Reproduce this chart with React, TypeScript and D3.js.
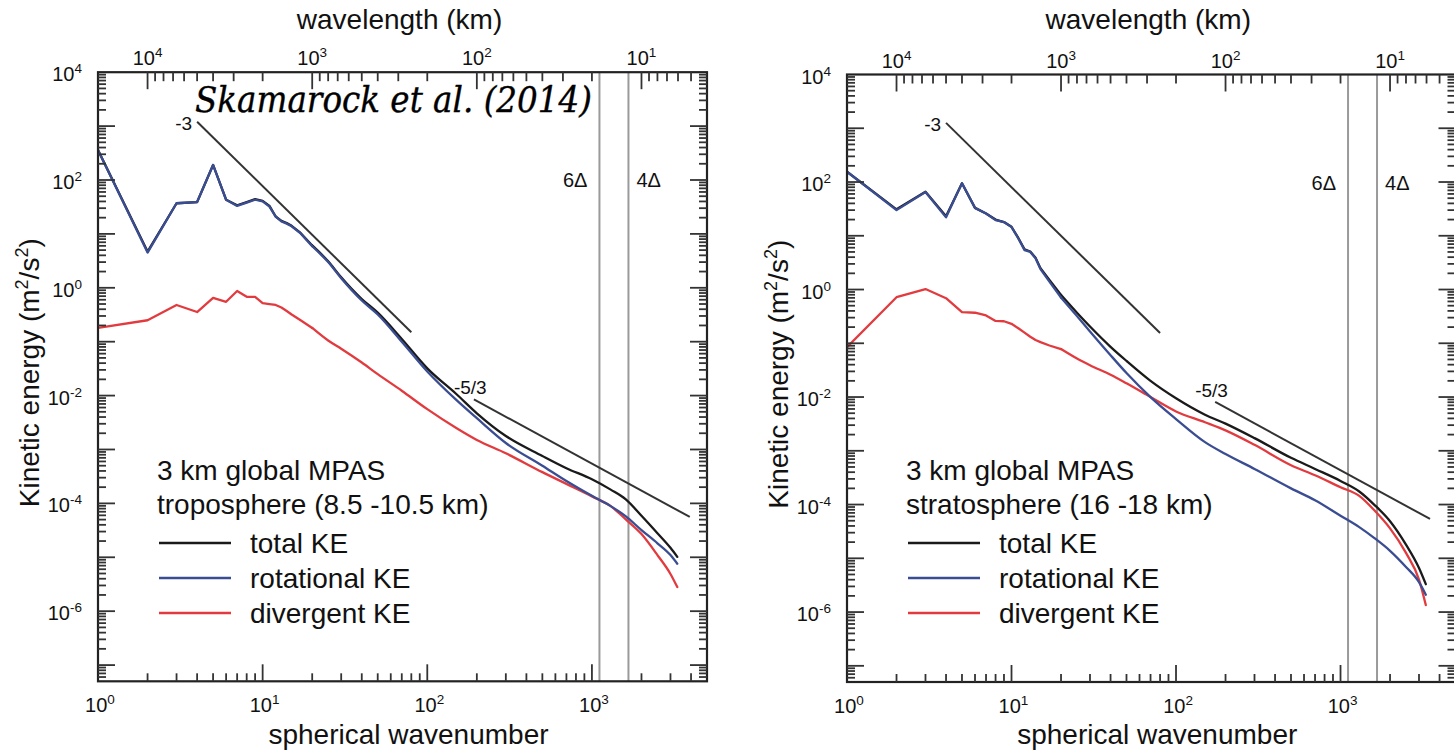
import React from 'react'
import * as d3 from 'd3'

const wavenumber = [1, 2, 3, 4, 5, 6, 7, 8, 9, 10, 11, 12, 13, 14, 15, 17, 20, 25, 30, 40, 50, 70, 100, 150, 200, 300, 500, 700, 1000, 1300, 1600, 2000, 2500, 3000, 3300]

// troposphere (8.5 - 10.5 km), m^2/s^2
const tropoTotal = [360, 4.7, 37, 39, 190, 43, 34, 39, 44, 41, 33, 21, 17.4, 15.9, 14.1, 10.4, 6.1, 3.1, 1.57, 0.62, 0.345, 0.112, 0.032, 0.0107, 4.7e-3, 1.78e-3, 7.6e-4, 4.5e-4, 2.8e-4, 1.8e-4, 1.2e-4, 5.9e-5, 2.8e-5, 1.5e-5, 1.02e-5]
const tropoRot = [360, 4.5, 37, 39, 190, 43, 33, 38, 43, 40, 32, 21, 17, 15.5, 13.8, 10.2, 5.9, 3.0, 1.5, 0.58, 0.32, 0.10, 0.028, 8.3e-3, 3.8e-3, 1.32e-3, 5.0e-4, 2.6e-4, 1.38e-4, 8.9e-5, 5.8e-5, 3.2e-5, 1.82e-5, 1.1e-5, 7.6e-6]
const tropoDiv = [0.18, 0.25, 0.48, 0.355, 0.65, 0.55, 0.87, 0.68, 0.68, 0.52, 0.50, 0.48, 0.43, 0.37, 0.32, 0.25, 0.18, 0.105, 0.074, 0.041, 0.025, 0.0123, 5.6e-3, 2.5e-3, 1.5e-3, 8.5e-4, 3.8e-4, 2.3e-4, 1.35e-4, 8.9e-5, 5.1e-5, 2.7e-5, 1.1e-5, 4.9e-6, 2.8e-6]

// stratosphere (16 - 18 km)
const stratoTotal = [155, 31, 66, 23, 95, 33, 26, 20, 18, 14.7, 9.1, 5.6, 5.1, 3.9, 2.5, 1.5, 0.79, 0.37, 0.205, 0.086, 0.047, 0.020, 9.5e-3, 4.7e-3, 3.2e-3, 1.72e-3, 7.4e-4, 4.6e-4, 2.75e-4, 1.75e-4, 1.0e-4, 4.9e-5, 1.8e-5, 6.6e-6, 3.3e-6]
const stratoRot = [155, 30, 65, 22, 95, 33, 26, 19.5, 18, 14.5, 8.9, 5.4, 5.0, 3.8, 2.4, 1.4, 0.71, 0.32, 0.166, 0.060, 0.028, 0.010, 3.9e-3, 1.45e-3, 8.7e-4, 4.6e-4, 2.0e-4, 1.2e-4, 6.2e-5, 3.8e-5, 2.4e-5, 1.38e-5, 6.9e-6, 3.6e-6, 2.1e-6]
const stratoDiv = [0.085, 0.72, 1.02, 0.69, 0.38, 0.37, 0.33, 0.26, 0.257, 0.23, 0.19, 0.158, 0.132, 0.115, 0.105, 0.091, 0.078, 0.052, 0.039, 0.026, 0.018, 0.010, 5.4e-3, 3.4e-3, 2.4e-3, 1.29e-3, 5.4e-4, 3.5e-4, 2.1e-4, 1.45e-4, 7.9e-5, 3.6e-5, 1.26e-5, 4.0e-6, 1.35e-6]

// reference slopes: [n, E] at both ends
const tropoSlopes = [
  { label: '-3', from: [4, 1.2e3], to: [80, 0.15] },
  { label: '-5/3', from: [192, 8.5e-3], to: [3930, 5.6e-5] },
]
const stratoSlopes = [
  { label: '-3', from: [4, 1.26e3], to: [80, 0.155] },
  { label: '-5/3', from: [173, 8.1e-3], to: [3500, 5.4e-5] },
]

// grid-scale markers for the 3 km mesh
const resolution = [
  { n: 1111, label: '6Δ' },
  { n: 1667, label: '4Δ' },
]

const xLabelExp = [0, 1, 2, 3]
const yLabelExp = [4, 2, 0, -2, -4, -6]
const wlLabelExp = [4, 3, 2, 1]

const seriesNames = ['total KE', 'rotational KE', 'divergent KE']
const seriesColors = ['#1a1a1a', '#3a4d92', '#e23b3f']

const sans = 'Liberation Sans, Arial, Helvetica, sans-serif'

// below this wavenumber the spectra are drawn as straight segments, above it smoothed
const smoothFrom = 20

function logTicks(lo: number, hi: number) {
  const out: { v: number; major: boolean }[] = []
  for (let e = Math.floor(Math.log10(lo)); e <= Math.ceil(Math.log10(hi)); e++) {
    for (let k = 1; k <= 9; k++) {
      const v = Number((k * Math.pow(10, e)).toPrecision(10))
      if (v > lo * 1.0001 && v < hi * 0.9999) out.push({ v, major: k === 1 })
    }
  }
  return out
}

function Pow({ x, y, exp, anchor }: any) {
  return (
    <text x={x} y={y} textAnchor={anchor} fontFamily={sans} fontSize={20} fill="#111">
      10<tspan dy={-8} fontSize={13.5}>{exp}</tspan>
    </text>
  )
}

function Panel({ left, right, top, bottom, total, rot, div, slopes, layer, citation }: any) {
  const x = d3.scaleLog().domain([1, 5000]).range([left, right])
  const y = d3.scaleLog().domain([5e-8, 1e4]).range([bottom, top])
  const wl = d3.scaleLog().domain([20000, 4]).range([left, right])
  const pts = (s: number[]) => s.map((v, i) => [x(wavenumber[i]), y(v)] as [number, number])
  const rough = d3.line()
  const smooth = d3.line().curve(d3.curveMonotoneX)
  const k = wavenumber.indexOf(smoothFrom)
  const cx = (left + right) / 2
  const cy = (top + bottom) / 2

  const xt = logTicks(1, 5000)
  const yt = logTicks(5e-8, 1e4)
  const wt = logTicks(4, 20000)
  const series = [total, div, rot]
  const seriesCol = [seriesColors[0], seriesColors[2], seriesColors[1]]

  return (
    <g>
      <defs>
        <clipPath id={`clip-${left}`}>
          <rect x={left} y={top} width={right - left} height={bottom - top} />
        </clipPath>
      </defs>

      {/* resolution markers */}
      {resolution.map(r => (
        <g key={r.label}>
          <line x1={x(r.n)} x2={x(r.n)} y1={top} y2={bottom} stroke="#9a9a9a" strokeWidth={2} />
          <text
            x={r.label === '6Δ' ? x(r.n) - 12 : x(r.n) + 8}
            y={top + 115}
            textAnchor={r.label === '6Δ' ? 'end' : 'start'}
            fontFamily={sans} fontSize={20} fill="#111"
          >{r.label}</text>
        </g>
      ))}

      {/* reference slopes */}
      {slopes.map((s: any) => {
        const x1 = x(s.from[0]), y1 = y(s.from[1])
        return (
          <g key={s.label}>
            <line x1={x1} y1={y1} x2={x(s.to[0])} y2={y(s.to[1])} stroke="#333" strokeWidth={2} />
            {s.label === '-3' ? (
              <text x={x1 - 5} y={y1 + 8} textAnchor="end" fontFamily={sans} fontSize={19} fill="#111">{s.label}</text>
            ) : (
              <text x={x1 - 20} y={y1 - 5} fontFamily={sans} fontSize={19} fill="#111">{s.label}</text>
            )}
          </g>
        )
      })}

      {/* spectra */}
      <g clipPath={`url(#clip-${left})`} fill="none" strokeWidth={2.3} strokeLinejoin="round" strokeLinecap="round">
        {series.map((s: number[], i: number) => {
          const p = pts(s)
          return (
            <g key={i} stroke={seriesCol[i]}>
              <path d={rough(p.slice(0, k + 1)) || ''} />
              <path d={smooth(p.slice(k)) || ''} />
            </g>
          )
        })}
      </g>

      {/* frame and ticks */}
      <rect x={left} y={top} width={right - left} height={bottom - top} fill="none" stroke="#222" strokeWidth={2.2} />
      {xt.map(t => (
        <line key={'b' + t.v} x1={x(t.v)} x2={x(t.v)} y1={bottom} y2={bottom - (t.major ? 17 : 8)} stroke="#333" strokeWidth={1.8} />
      ))}
      {wt.map(t => (
        <line key={'t' + t.v} x1={wl(t.v)} x2={wl(t.v)} y1={top} y2={top + (t.major ? 17 : 9)} stroke="#333" strokeWidth={1.8} />
      ))}
      {yt.map(t => (
        <g key={'y' + t.v}>
          <line x1={left} x2={left + (t.major ? 17 : 8)} y1={y(t.v)} y2={y(t.v)} stroke="#333" strokeWidth={1.8} />
          <line x1={right} x2={right - (t.major ? 17 : 8)} y1={y(t.v)} y2={y(t.v)} stroke="#333" strokeWidth={1.8} />
        </g>
      ))}

      {/* tick labels */}
      {xLabelExp.map(e => <Pow key={'xl' + e} x={x(Math.pow(10, e)) + 2} y={bottom + 31} exp={e} anchor="middle" />)}
      {yLabelExp.map(e => <Pow key={'yl' + e} x={left - 16} y={y(Math.pow(10, e)) + 9} exp={e} anchor="end" />)}
      {wlLabelExp.map(e => <Pow key={'wl' + e} x={wl(Math.pow(10, e))} y={top - 7} exp={e} anchor="middle" />)}

      {/* axis titles */}
      <text x={cx - 3} y={29} textAnchor="middle" fontFamily={sans} fontSize={28} fill="#111">wavelength (km)</text>
      <text x={cx + 6} y={744} textAnchor="middle" fontFamily={sans} fontSize={28} fill="#111">spherical wavenumber</text>
      <text transform={`translate(${left - 59},${cy - 4}) rotate(-90)`} textAnchor="middle" fontFamily={sans} fontSize={28} fill="#111">
        Kinetic energy (m<tspan dy={-11} fontSize={18}>2</tspan><tspan dy={11}>/s</tspan><tspan dy={-11} fontSize={18}>2</tspan><tspan dy={11}>)</tspan>
      </text>

      {/* legend */}
      <text x={left + 59} y={480} fontFamily={sans} fontSize={28} fill="#111">3 km global MPAS</text>
      <text x={left + 59} y={514} fontFamily={sans} fontSize={28} fill="#111">{layer}</text>
      {seriesNames.map((name, i) => (
        <g key={name}>
          <line x1={left + 61} x2={left + 133} y1={543 + i * 35} y2={543 + i * 35} stroke={seriesColors[i]} strokeWidth={2.5} />
          <text x={left + 152} y={553 + i * 35} fontFamily={sans} fontSize={28} fill="#111">{name}</text>
        </g>
      ))}

      {citation && (
        <text x={195} y={112} fontFamily="DejaVu Serif, serif" fontStyle="italic" fontSize={35}
          textLength={397} lengthAdjust="spacingAndGlyphs" fill="#000" stroke="#000" strokeWidth={0.4}>{citation}</text>
      )}
    </g>
  )
}

export default function App() {
  return (
    <svg width={1454} height={752} style={{ position: 'absolute', left: 0, top: 0, background: '#fff' }}>
      <rect width={1454} height={752} fill="#fff" />
      <Panel left={98} right={707} top={72.2} bottom={681.3}
        total={tropoTotal} rot={tropoRot} div={tropoDiv} slopes={tropoSlopes}
        layer="troposphere (8.5 -10.5 km)" citation="Skamarock et al. (2014)" />
      <Panel left={847} right={1455.5} top={74.5} bottom={682}
        total={stratoTotal} rot={stratoRot} div={stratoDiv} slopes={stratoSlopes}
        layer="stratosphere (16 -18 km)" />
    </svg>
  )
}
